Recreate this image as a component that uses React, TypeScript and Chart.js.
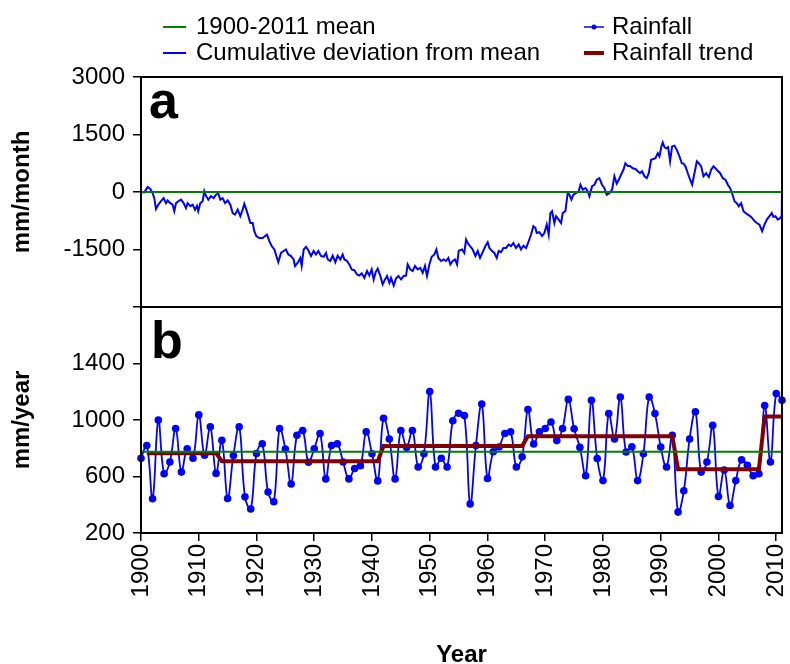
import React, { useEffect, useRef } from 'react';
import { Chart, registerables } from 'chart.js';

Chart.register(...registerables);

// ---------- DATA ----------
const firstYear = 1900;
const lastYear = 2011;

// Annual rainfall (mm/year), 1900..2011
const rainfall = [
  729, 820, 442, 1000, 619, 703, 940, 631, 796, 729,
  1036, 751, 952, 622, 856, 444, 749, 952, 456, 370,
  763, 832, 490, 421, 940, 794, 547, 892, 926, 701,
  796, 904, 583, 820, 832, 703, 583, 657, 676, 916,
  761, 569, 1012, 866, 583, 926, 806, 926, 667, 761,
  1201, 667, 729, 667, 995, 1048, 1031, 406, 820, 1113,
  586, 775, 809, 904, 916, 667, 739, 1074, 830, 916,
  940, 986, 854, 940, 1146, 938, 806, 605, 1139, 727,
  571, 1046, 866, 1163, 773, 811, 571, 761, 1163, 1046,
  809, 667, 892, 348, 499, 866, 1058, 631, 703, 962,
  458, 646, 395, 571, 718, 679, 605, 619, 1103, 703,
  1187, 1139,
];

const meanRainfall = 775;
const meanDeviation = 0;

// Rainfall trend (step levels)
const trendStartYears = [1901, 1914, 1942, 1967, 1993, 2008];
const trendEndYears = [1913, 1941, 1966, 1992, 2007, 2011];
const trendLevels = [765, 708, 816, 885, 652, 1024];

// Cumulative deviation from mean (mm/month)
const cumYears = [
  1900.00, 1900.57, 1901.15, 1901.61, 1902.02, 1902.30, 1902.59, 1903.00, 1903.46, 1903.92,
  1904.32, 1904.61, 1905.07, 1905.48, 1905.77, 1906.06, 1906.46, 1906.92, 1907.38, 1907.79,
  1908.08, 1908.54, 1908.94, 1909.35, 1909.69, 1909.92, 1910.27, 1910.67, 1910.96, 1911.25,
  1911.66, 1912.12, 1912.58, 1912.98, 1913.39, 1913.74, 1914.14, 1914.55, 1915.01, 1915.47,
  1915.87, 1916.28, 1916.74, 1917.20, 1917.60, 1917.89, 1918.24, 1918.59, 1918.93, 1919.34,
  1919.62, 1919.97, 1920.49, 1921.07, 1921.47, 1921.82, 1922.22, 1922.63, 1923.09, 1923.55,
  1923.78, 1924.24, 1924.70, 1925.10, 1925.51, 1925.97, 1926.43, 1926.66, 1927.12, 1927.59,
  1927.82, 1928.17, 1928.57, 1928.97, 1929.44, 1929.90, 1930.30, 1930.71, 1931.17, 1931.63,
  1932.04, 1932.33, 1932.79, 1933.19, 1933.65, 1934.06, 1934.52, 1934.92, 1935.21, 1935.67,
  1936.08, 1936.48, 1936.94, 1937.41, 1937.81, 1938.22, 1938.68, 1939.14, 1939.54, 1939.95,
  1940.29, 1940.64, 1940.99, 1941.45, 1941.85, 1942.26, 1942.61, 1943.01, 1943.30, 1943.76,
  1944.16, 1944.57, 1945.03, 1945.49, 1945.90, 1946.18, 1946.65, 1947.05, 1947.45, 1947.91,
  1948.38, 1948.78, 1949.18, 1949.53, 1949.93, 1950.34, 1950.80, 1951.15, 1951.49, 1951.96,
  1952.42, 1952.82, 1953.23, 1953.57, 1953.98, 1954.38, 1954.73, 1955.02, 1955.59, 1955.99,
  1956.29, 1956.58, 1956.98, 1957.44, 1957.91, 1958.31, 1958.71, 1959.17, 1959.64, 1960.04,
  1960.33, 1960.79, 1961.19, 1961.60, 1961.94, 1962.35, 1962.75, 1963.21, 1963.67, 1964.08,
  1964.48, 1964.94, 1965.41, 1965.81, 1966.22, 1966.68, 1967.08, 1967.55, 1967.95, 1968.30,
  1968.53, 1968.99, 1969.45, 1969.85, 1970.26, 1970.60, 1970.89, 1971.18, 1971.58, 1971.87,
  1972.33, 1972.74, 1973.03, 1973.49, 1973.89, 1974.18, 1974.53, 1974.88, 1975.34, 1975.80,
  1976.09, 1976.49, 1976.96, 1977.36, 1977.65, 1978.11, 1978.52, 1978.92, 1979.38, 1979.84,
  1980.25, 1980.65, 1981.11, 1981.58, 1981.98, 1982.38, 1982.73, 1983.13, 1983.54, 1983.88,
  1984.29, 1984.69, 1985.15, 1985.62, 1986.02, 1986.43, 1986.77, 1987.18, 1987.58, 1987.93,
  1988.33, 1988.74, 1989.08, 1989.49, 1989.78, 1990.12, 1990.35, 1990.64, 1990.93, 1991.28,
  1991.62, 1991.97, 1992.38, 1992.78, 1993.24, 1993.65, 1993.94, 1994.28, 1994.69, 1995.09,
  1995.44, 1995.84, 1996.25, 1996.59, 1997.00, 1997.40, 1997.86, 1998.33, 1998.73, 1999.13,
  1999.60, 1999.94, 2000.29, 2000.75, 2001.21, 2001.62, 2002.02, 2002.37, 2002.77, 2003.18,
  2003.52, 2003.93, 2004.33, 2004.68, 2005.08, 2005.48, 2005.83, 2006.24, 2006.64, 2007.10,
  2007.56, 2007.97, 2008.37, 2008.83, 2009.23, 2009.52, 2009.87, 2010.27, 2010.68, 2010.95,
  2011.00,
];
const cumValues = [
  0, -10, 130, 80, -30, -160, -440, -330, -240, -160,
  -290, -220, -290, -330, -500, -290, -240, -200, -290, -420,
  -290, -370, -330, -460, -360, -500, -290, -240, 20, -100,
  -200, -110, -160, -70, -40, -200, -160, -290, -220, -330,
  -550, -590, -460, -630, -460, -310, -460, -630, -810, -810,
  -1020, -1150, -1200, -1200, -1150, -1110, -1280, -1410, -1500, -1720,
  -1830, -1590, -1540, -1500, -1630, -1670, -1760, -1930, -1850, -1720,
  -1930, -1500, -1430, -1520, -1670, -1540, -1630, -1540, -1670, -1690,
  -1590, -1760, -1800, -1660, -1830, -1660, -1760, -1630, -1760, -1800,
  -1890, -2020, -2040, -2150, -2180, -2120, -2240, -2060, -2180, -2020,
  -2280, -2090, -2000, -2190, -2410, -2280, -2190, -2370, -2240, -2440,
  -2260, -2190, -2280, -2190, -2180, -1890, -2020, -2060, -1930, -2020,
  -1980, -2110, -1930, -2190, -1890, -1690, -1630, -1500, -1720, -1800,
  -1760, -1800, -1720, -1890, -1800, -1760, -1890, -1530, -1500, -1590,
  -1240, -1330, -1410, -1500, -1670, -1540, -1720, -1570, -1410, -1310,
  -1460, -1540, -1590, -1720, -1540, -1570, -1460, -1460, -1370, -1410,
  -1330, -1460, -1370, -1500, -1400, -1460, -1310, -1110, -890, -940,
  -1070, -1050, -1150, -1070, -850, -1110, -550, -500, -810, -630,
  -720, -810, -550, -500, -30, -70, -200, -70, -30, 20,
  190, 60, 100, 20, -110, 150, 190, 320, 360, 190,
  100, -70, -30, 60, 410, 220, 320, 450, 580, 750,
  680, 680, 620, 600, 540, 490, 540, 410, 360, 490,
  840, 860, 880, 1010, 930, 1190, 1290, 1170, 1140, 1170,
  800, 1190, 1210, 1100, 930, 750, 740, 670, 490, 320,
  190, 490, 800, 750, 670, 410, 490, 390, 580, 670,
  600, 540, 490, 360, 320, 190, 100, -40, -240, -290,
  -370, -290, -500, -550, -590, -630, -680, -760, -810, -850,
  -1020, -850, -720, -630, -550, -650, -630, -720, -680, -620,
  0,
];

// Tick labels
const xTickYears = [1900, 1910, 1920, 1930, 1940, 1950, 1960, 1970, 1980, 1990, 2000, 2010];
const yaTicks = [3000, 1500, 0, -1500, -3000];
const yaHiddenTick = -3000;
const ybTicks = [1400, 1000, 600, 200];

const FONT = '"Liberation Sans", Arial, Helvetica, sans-serif';

export default function App() {
  const ref = useRef<HTMLCanvasElement | null>(null);

  useEffect(() => {
    const canvas = ref.current;
    if (!canvas) return;

    const rainPts = rainfall.map((v, i) => ({ x: firstYear + i, y: v }));
    const cumPts = cumYears.map((x, i) => ({ x, y: cumValues[i] }));
    const trendPts: { x: number; y: number }[] = [];
    trendLevels.forEach((lv, i) => {
      trendPts.push({ x: trendStartYears[i], y: lv });
      trendPts.push({ x: trendEndYears[i], y: lv });
    });

    const overlay = {
      id: 'overlay',
      afterDraw(chart: any) {
        const { ctx, chartArea } = chart;
        const ya = chart.scales.ya;
        ctx.save();
        ctx.strokeStyle = '#000';
        ctx.lineWidth = 2;
        ctx.strokeRect(chartArea.left, chartArea.top, chartArea.right - chartArea.left, chartArea.bottom - chartArea.top);
        ctx.beginPath();
        ctx.moveTo(chartArea.left, ya.bottom);
        ctx.lineTo(chartArea.right, ya.bottom);
        ctx.stroke();

        // panel letters
        ctx.fillStyle = '#000';
        ctx.font = `bold 52px ${FONT}`;
        ctx.textBaseline = 'alphabetic';
        ctx.textAlign = 'left';
        ctx.fillText('a', chartArea.left + 8, ya.top + 41);
        ctx.fillText('b', chartArea.left + 10, ya.bottom + 51);

        // legend
        ctx.font = `24px ${FONT}`;
        ctx.textBaseline = 'middle';
        const rows = [27, 53];
        const drawLine = (x1: number, x2: number, y: number, color: string, w: number) => {
          ctx.strokeStyle = color;
          ctx.lineWidth = w;
          ctx.beginPath();
          ctx.moveTo(x1, y);
          ctx.lineTo(x2, y);
          ctx.stroke();
        };
        drawLine(163, 186, rows[0], '#008000', 2);
        ctx.fillText('1900-2011 mean', 196, rows[0]);
        drawLine(163, 186, rows[1], '#0000ff', 2);
        ctx.fillText('Cumulative deviation from mean', 196, rows[1]);
        drawLine(584, 604, rows[0], '#0000ff', 1.5);
        ctx.fillStyle = '#0000ff';
        ctx.beginPath();
        ctx.arc(594, rows[0], 2.5, 0, Math.PI * 2);
        ctx.fill();
        ctx.fillStyle = '#000';
        ctx.fillText('Rainfall', 612, rows[0]);
        drawLine(584, 604, rows[1], '#800000', 4);
        ctx.fillText('Rainfall trend', 612, rows[1]);
        ctx.restore();
      },
    };

    const tickFont = { family: FONT, size: 24 };
    const titleFont = { family: FONT, size: 24, weight: 'bold' as const };

    const chart = new Chart(canvas, {
      type: 'line',
      data: {
        datasets: [
          {
            label: '1900-2011 mean',
            data: [{ x: firstYear, y: meanDeviation }, { x: lastYear, y: meanDeviation }],
            yAxisID: 'ya',
            borderColor: '#008000',
            borderWidth: 2,
            pointRadius: 0,
          },
          {
            label: '1900-2011 mean ',
            data: [{ x: firstYear, y: meanRainfall }, { x: lastYear, y: meanRainfall }],
            yAxisID: 'yb',
            borderColor: '#008000',
            borderWidth: 2,
            pointRadius: 0,
          },
          {
            label: 'Rainfall trend',
            data: trendPts,
            yAxisID: 'yb',
            borderColor: '#800000',
            borderWidth: 4,
            pointRadius: 0,
          },
          {
            label: 'Cumulative deviation from mean',
            data: cumPts,
            yAxisID: 'ya',
            borderColor: '#0000ff',
            borderWidth: 2,
            pointRadius: 0,
            tension: 0,
          },
          {
            label: 'Rainfall',
            data: rainPts,
            yAxisID: 'yb',
            borderColor: '#0000ff',
            borderWidth: 1.8,
            pointRadius: 3.8,
            pointBackgroundColor: '#0000ff',
            pointBorderWidth: 0,
            tension: 0.4,
            clip: false as any,
          },
        ],
      },
      options: {
        responsive: false,
        animation: false,
        layout: { padding: { top: 77, right: 8, bottom: 0, left: 0 } },
        plugins: { legend: { display: false }, tooltip: { enabled: false } },
        scales: {
          x: {
            type: 'linear',
            position: 'bottom',
            min: firstYear,
            max: lastYear,
            afterBuildTicks: (s: any) => {
              s.ticks = xTickYears.map((v) => ({ value: v }));
            },
            afterFit: (s: any) => {
              s.height = 131;
              s.paddingLeft = 0;
              s.paddingRight = 0;
            },
            ticks: {
              autoSkip: false,
              minRotation: 90,
              maxRotation: 90,
              padding: 3,
              color: '#000',
              font: tickFont,
              callback: (v: any) => String(v),
            },
            grid: { drawOnChartArea: false, drawTicks: true, tickLength: 8, color: '#000', lineWidth: 1.5 },
            border: { display: true, color: '#000', width: 2 },
            title: { display: true, text: 'Year', color: '#000', font: titleFont, padding: { top: 0, bottom: -6 } },
          },
          yb: {
            type: 'linear',
            position: 'left',
            stack: 'panels',
            stackWeight: 226,
            min: 200,
            max: 1800,
            afterBuildTicks: (s: any) => {
              s.ticks = ybTicks.map((v) => ({ value: v }));
            },
            afterFit: (s: any) => {
              s.width = 141;
              s.paddingTop = 0;
              s.paddingBottom = 0;
            },
            ticks: { autoSkip: false, padding: 8, color: '#000', font: tickFont, callback: (v: any) => String(v) },
            grid: { drawOnChartArea: false, drawTicks: true, tickLength: 8, color: '#000', lineWidth: 1.5 },
            border: { display: true, color: '#000', width: 2 },
            title: { display: true, text: 'mm/year', color: '#000', font: titleFont, padding: { top: 8, bottom: 0 } },
          },
          ya: {
            type: 'linear',
            position: 'left',
            stack: 'panels',
            stackWeight: 230,
            min: -3000,
            max: 3000,
            afterBuildTicks: (s: any) => {
              s.ticks = yaTicks.map((v) => ({ value: v }));
            },
            afterFit: (s: any) => {
              s.width = 141;
              s.paddingTop = 0;
              s.paddingBottom = 0;
            },
            ticks: {
              autoSkip: false,
              padding: 8,
              color: '#000',
              font: tickFont,
              callback: (v: any) => (v === yaHiddenTick ? '' : String(v)),
            },
            grid: { drawOnChartArea: false, drawTicks: true, tickLength: 8, color: '#000', lineWidth: 1.5 },
            border: { display: true, color: '#000', width: 2 },
            title: { display: true, text: 'mm/month', color: '#000', font: titleFont, padding: { top: 8, bottom: 0 } },
          },
        },
      } as any,
      plugins: [overlay],
    });

    return () => chart.destroy();
  }, []);

  return (
    <div style={{ position: 'absolute', left: 0, top: 0, width: 790, height: 664, background: '#fff' }}>
      <canvas ref={ref} width={790} height={664} style={{ width: 790, height: 664, display: 'block' }} />
    </div>
  );
}
